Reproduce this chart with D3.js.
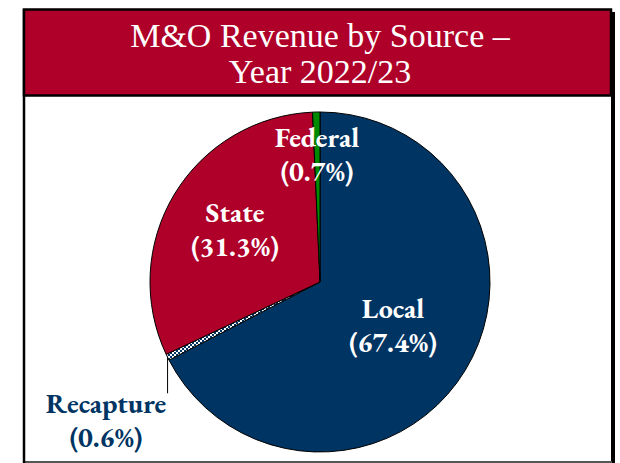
<!DOCTYPE html>
<html><head><meta charset="utf-8">
<script src="https://cdn.jsdelivr.net/npm/d3@7"></script>
<style>body{margin:0;background:#fff}svg{display:block}</style>
</head><body>
<svg id="c" width="620" height="463"></svg>
<script>
const titleLines = ["M&O Revenue by Source \u2013", "Year 2022/23"];
const categories = ["Local", "Recapture", "State", "Federal"];
const values = [67.4, 0.6, 31.3, 0.7];
const labels = ["(67.4%)", "(0.6%)", "(31.3%)", "(0.7%)"];
const colors = ["#003463", "#ffffff", "#AF0029", "#008A00"];

const svg = d3.select("#c");
const defs = svg.append("defs");
const pat = defs.append("pattern").attr("id","dots").attr("patternUnits","userSpaceOnUse")
  .attr("width",4).attr("height",4);
pat.append("rect").attr("width",4).attr("height",4).attr("fill","#fff");
pat.append("rect").attr("width",2).attr("height",2).attr("fill","#003463");
pat.append("rect").attr("x",2).attr("y",2).attr("width",2).attr("height",2).attr("fill","#003463");

// frame
svg.append("rect").attr("x",611).attr("y",12).attr("width",4).attr("height",451).attr("fill","#000");
svg.append("line").attr("x1",24).attr("x2",612).attr("y1",462).attr("y2",462).attr("stroke","#555").attr("stroke-width",2);
svg.append("line").attr("x1",24).attr("x2",24).attr("y1",9).attr("y2",463).attr("stroke","#000").attr("stroke-width",2.5);
svg.append("rect").attr("x",24).attr("y",9.5).attr("width",587).attr("height",86)
  .attr("fill","#AF0029").attr("stroke","#000").attr("stroke-width",2.5);

const serif = "'EB Garamond', Garamond, 'Liberation Serif', serif";
svg.selectAll("text.title").data(titleLines).join("text").attr("class","title")
  .attr("x",320).attr("y",(d,i)=>47+i*36).attr("text-anchor","middle")
  .attr("font-family","'Liberation Serif', 'DejaVu Serif', serif").attr("font-size",34)
  .attr("fill","#fff").text(d=>d);

const cx = 320, cy = 282, r = 170;
const data = categories.map((c,i)=>({c, v:values[i], l:labels[i], col:colors[i]}));
const pie = d3.pie().sort(null).value(d=>d.v);
const arcs = pie(data);
const arc = d3.arc().innerRadius(0).outerRadius(r);
const g = svg.append("g").attr("transform",`translate(${cx},${cy})`);
g.selectAll("path").data(arcs).join("path").attr("d",arc)
  .attr("fill",d=>d.data.c==="Recapture"?"url(#dots)":d.data.col)
  .attr("stroke","#000").attr("stroke-width",1);

const lab = [
  {c:"Local", x:393, y:318, fill:"#fff"},
  {c:"State", x:235, y:222, fill:"#fff"},
  {c:"Federal", x:317, y:147, fill:"#fff"},
  {c:"Recapture", x:106, y:413, fill:"#003463"}
];
lab.forEach(L=>{
  const d = data.find(e=>e.c===L.c);
  const t = svg.append("text").attr("x",L.x).attr("y",L.y).attr("text-anchor","middle")
    .attr("font-family",serif).attr("font-weight","bold").attr("font-size",28).attr("fill",L.fill);
  t.append("tspan").attr("x",L.x).attr("dy",0).text(d.c);
  t.append("tspan").attr("x",L.x).attr("dy",34).text(d.l);
});
// leader for recapture
const ra = arcs[1];
const mid = (ra.startAngle+ra.endAngle)/2;
const px = cx + Math.sin(mid)*r, py = cy - Math.cos(mid)*r;
svg.append("line").attr("x1",px).attr("y1",py).attr("x2",px).attr("y2",py+36)
  .attr("stroke","#000").attr("stroke-width",1);
</script>
</body></html>
